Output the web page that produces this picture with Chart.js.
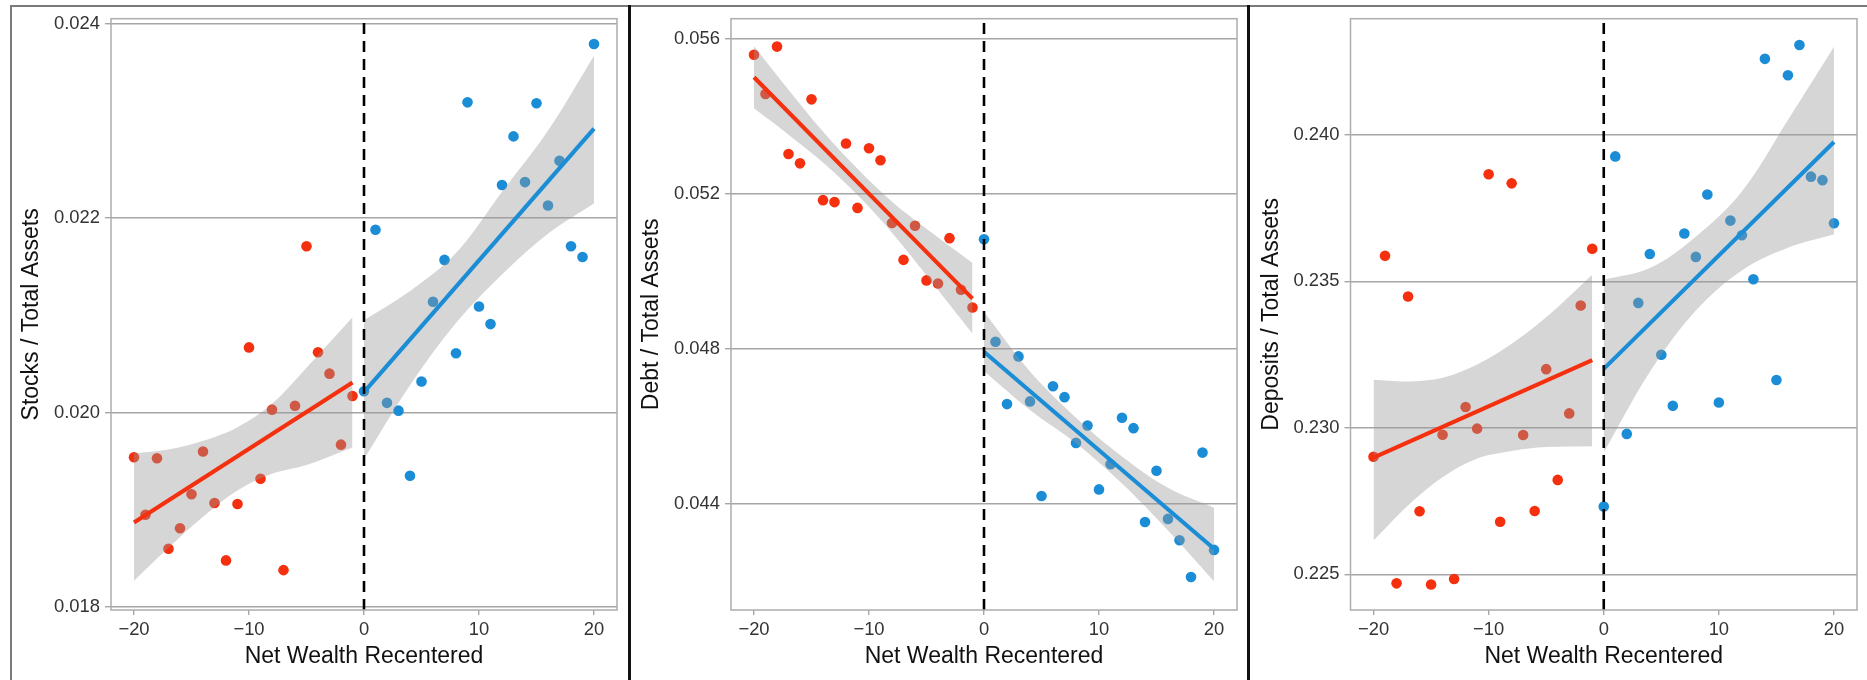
<!DOCTYPE html>
<html lang="en">
<head>
  <meta charset="UTF-8">
  <title>Net Wealth Recentered panels</title>
  <script src="https://cdn.jsdelivr.net/npm/chart.js"></script>
  <style>
    body { margin: 0; background: #fff; width: 1867px; height: 680px; overflow: hidden; position: relative; font-family: "Liberation Sans", Arial, sans-serif; }
    canvas { position: absolute; top: 0; }
    .rule { position: absolute; z-index: 5; }
  </style>
</head>
<body>
  <canvas id="stocksChart" width="630" height="680" style="left:0px"></canvas>
  <canvas id="debtChart" width="617" height="680" style="left:632px"></canvas>
  <canvas id="depositsChart" width="616" height="680" style="left:1251px"></canvas>

  <div class="rule" style="left:10px;top:5px;width:1857px;height:2px;background:#7a7a7a"></div>
  <div class="rule" style="left:10px;top:5px;width:2px;height:675px;background:#7a7a7a"></div>
  <div class="rule" style="left:628px;top:5px;width:3px;height:675px;background:#111"></div>
  <div class="rule" style="left:1247px;top:5px;width:3px;height:675px;background:#111"></div>

  <script>
    // shared x values
    const redX = [-20, -19, -18, -17, -16, -15, -14, -13, -12, -11, -10, -9, -8, -7, -6, -5, -4, -3, -2, -1];
    const blueX = [0, 1, 2, 3, 4, 5, 6, 7, 8, 9, 10, 11, 12, 13, 14, 15, 16, 17, 18, 19, 20];
    const redFitX = [-20, -1];
    const blueFitX = [0, 20];
    const redBandX = [-20, -17, -14, -11, -8, -5, -1];
    const blueBandX = [0, 4, 8, 12, 16, 20];
    const xTicks = [-20, -10, 0, 10, 20];
    const xRange = [-22, 22];
    const xTitle = 'Net Wealth Recentered';

    // Stocks / Total Assets
    const stocksRed = [0.01954, 0.01895, 0.01953, 0.01860, 0.01881, 0.01916, 0.01960, 0.01907, 0.01848, 0.01906,
                       0.02067, 0.01932, 0.02003, 0.01838, 0.02007, 0.02171, 0.02062, 0.02040, 0.01967, 0.02017];
    const stocksBlue = [0.02022, 0.02188, 0.02010, 0.02002, 0.01935, 0.02032, 0.02114, 0.02157, 0.02061, 0.02319, 0.02109,
                        0.02091, 0.02234, 0.02284, 0.02237, 0.02318, 0.02213, 0.02259, 0.02171, 0.02160, 0.02379];
    const stocksRedFit = [0.01887, 0.02031];
    const stocksBlueFit = [0.02021, 0.02292];
    const stocksRedUpper = [0.01958, 0.01962, 0.01971, 0.01985, 0.02009, 0.02046, 0.02098];
    const stocksRedLower = [0.01827, 0.01861, 0.01893, 0.01920, 0.01937, 0.01946, 0.01964];
    const stocksBlueUpper = [0.02095, 0.02125, 0.02164, 0.02227, 0.02290, 0.02367];
    const stocksBlueLower = [0.01952, 0.02028, 0.02092, 0.02142, 0.02184, 0.02215];
    const stocksTicks = [0.018, 0.020, 0.022, 0.024];
    const stocksRange = [0.01797, 0.02405];

    // Debt / Total Assets
    const debtRed = [0.05559, 0.05458, 0.05580, 0.05303, 0.05279, 0.05444, 0.05184, 0.05179, 0.05330, 0.05164,
                     0.05318, 0.05287, 0.05125, 0.05030, 0.05118, 0.04977, 0.04969, 0.05086, 0.04953, 0.04907];
    const debtBlue = [0.05083, 0.04819, 0.04658, 0.04781, 0.04665, 0.04421, 0.04704, 0.04676, 0.04558, 0.04603, 0.04438,
                      0.04503, 0.04623, 0.04596, 0.04354, 0.04486, 0.04362, 0.04307, 0.04212, 0.04533, 0.04282];
    const debtRedFit = [0.05501, 0.04930];
    const debtBlueFit = [0.04793, 0.04285];
    const debtRedUpper = [0.05581, 0.05469, 0.05361, 0.05265, 0.05180, 0.05110, 0.05022];
    const debtRedLower = [0.05421, 0.05353, 0.05281, 0.05197, 0.05100, 0.04990, 0.04840];
    const debtBlueUpper = [0.04896, 0.04742, 0.04623, 0.04523, 0.04442, 0.04391];
    const debtBlueLower = [0.04743, 0.04643, 0.04557, 0.04453, 0.04332, 0.04201];
    const debtTicks = [0.044, 0.048, 0.052, 0.056];
    const debtRange = [0.04127, 0.05652];

    // Deposits / Total Assets
    const depositsRed = [0.22901, 0.23587, 0.22469, 0.23448, 0.22715, 0.22465, 0.22976, 0.22484, 0.23071, 0.22997,
                         0.23865, 0.22679, 0.23834, 0.22975, 0.22716, 0.23200, 0.22822, 0.23049, 0.23417, 0.23611];
    const depositsBlue = [0.22731, 0.23926, 0.22979, 0.23426, 0.23593, 0.23249, 0.23075, 0.23663, 0.23583, 0.23796, 0.23086,
                          0.23707, 0.23657, 0.23507, 0.24259, 0.23163, 0.24203, 0.24306, 0.23857, 0.23845, 0.23698];
    const depositsRedFit = [0.22898, 0.23231];
    const depositsBlueFit = [0.23201, 0.23975];
    const depositsRedUpper = [0.23164, 0.23158, 0.23171, 0.23216, 0.23287, 0.23377, 0.23522];
    const depositsRedLower = [0.22615, 0.22735, 0.22831, 0.22895, 0.22921, 0.22934, 0.22937];
    const depositsBlueUpper = [0.23505, 0.23545, 0.23652, 0.23806, 0.24050, 0.24300];
    const depositsBlueLower = [0.22916, 0.23190, 0.23400, 0.23537, 0.23614, 0.23660];
    const depositsTicks = [0.225, 0.230, 0.235, 0.240];
    const depositsRange = [0.22378, 0.24396];

    const RED = '#f5300f';
    const BLUE = '#1a8dd6';
    const BAND = 'rgba(153,153,153,0.4)';
    const FONT = '"Liberation Sans", Arial, sans-serif';

    const pts = (xs, ys) => xs.map((x, i) => ({ x: x, y: ys[i] }));

    // frame around the plotting area
    const panelBorder = {
      id: 'panelBorder',
      afterDatasetsDraw(chart) {
        const a = chart.chartArea;
        const ctx = chart.ctx;
        ctx.save();
        ctx.strokeStyle = '#adadad';
        ctx.lineWidth = 1.5;
        ctx.strokeRect(a.left, a.top, a.right - a.left, a.bottom - a.top);
        ctx.restore();
      }
    };

    function bandLine(xs, ys, fill) {
      return {
        type: 'line', data: pts(xs, ys), order: 2,
        borderWidth: 0, borderColor: 'rgba(0,0,0,0)', pointRadius: 0,
        tension: 0.35, fill: fill ? '-1' : false, backgroundColor: BAND
      };
    }

    function fitLine(xs, ys, color) {
      return {
        type: 'line', data: pts(xs, ys), order: 1,
        borderColor: color, borderWidth: 4.1, pointRadius: 0, fill: false
      };
    }

    function makePanel(id, p) {
      const ctx = document.getElementById(id).getContext('2d');
      return new Chart(ctx, {
        type: 'scatter',
        data: {
          datasets: [
            {
              type: 'line', data: [{ x: 0, y: p.range[0] }, { x: 0, y: p.range[1] }], order: 0,
              borderColor: '#000', borderWidth: 2.6, borderDash: [11, 7], pointRadius: 0, fill: false
            },
            fitLine(redFitX, p.redFit, RED),
            fitLine(blueFitX, p.blueFit, BLUE),
            bandLine(redBandX, p.redLower, false),
            bandLine(redBandX, p.redUpper, true),
            bandLine(blueBandX, p.blueLower, false),
            bandLine(blueBandX, p.blueUpper, true),
            { data: pts(redX, p.red), order: 3, backgroundColor: RED, pointRadius: 5.3, pointBorderWidth: 0 },
            { data: pts(blueX, p.blue), order: 3, backgroundColor: BLUE, pointRadius: 5.3, pointBorderWidth: 0 }
          ]
        },
        options: {
          responsive: false,
          animation: false,
          devicePixelRatio: 1,
          layout: { padding: { top: 18.7, right: p.padRight, left: 0, bottom: 0 } },
          plugins: { legend: { display: false }, tooltip: { enabled: false } },
          scales: {
            x: {
              type: 'linear', min: xRange[0], max: xRange[1],
              afterBuildTicks: s => { s.ticks = xTicks.map(v => ({ value: v })); },
              afterFit: s => { s.height = 70; },
              border: { display: false },
              grid: { drawOnChartArea: false, drawTicks: true, tickLength: 5, color: '#a6a6a6', lineWidth: 1.4 },
              ticks: {
                autoSkip: false, maxRotation: 0, padding: 4, color: '#333',
                font: { family: FONT, size: 18.4 },
                callback: v => v < 0 ? '\u2212' + Math.abs(v) : String(v)
              },
              title: {
                display: true, text: xTitle, color: '#111',
                font: { family: FONT, size: 23 }, padding: { top: 0, bottom: 9.2 }
              }
            },
            y: {
              type: 'linear', min: p.range[0], max: p.range[1],
              afterBuildTicks: s => { s.ticks = p.ticks.map(v => ({ value: v })); },
              afterFit: s => { s.width = p.axisWidth; },
              border: { display: false },
              grid: { drawOnChartArea: true, drawTicks: true, tickLength: 6, color: '#a6a6a6', lineWidth: 1.4 },
              ticks: {
                padding: 5, color: '#333',
                font: { family: FONT, size: 18.4 },
                callback: v => v.toFixed(3)
              },
              title: {
                display: true, text: p.title, color: '#111',
                font: { family: FONT, size: 23 }, padding: { top: p.titlePad, bottom: 0 }
              }
            }
          }
        },
        plugins: [panelBorder]
      });
    }

    makePanel('stocksChart', {
      title: 'Stocks / Total Assets', red: stocksRed, blue: stocksBlue,
      redFit: stocksRedFit, blueFit: stocksBlueFit,
      redUpper: stocksRedUpper, redLower: stocksRedLower, blueUpper: stocksBlueUpper, blueLower: stocksBlueLower,
      ticks: stocksTicks, range: stocksRange, axisWidth: 111, padRight: 13, titlePad: 18.2
    });
    makePanel('debtChart', {
      title: 'Debt / Total Assets', red: debtRed, blue: debtBlue,
      redFit: debtRedFit, blueFit: debtBlueFit,
      redUpper: debtRedUpper, redLower: debtRedLower, blueUpper: debtBlueUpper, blueLower: debtBlueLower,
      ticks: debtTicks, range: debtRange, axisWidth: 99, padRight: 12, titlePad: 6.2
    });
    makePanel('depositsChart', {
      title: 'Deposits / Total Assets', red: depositsRed, blue: depositsBlue,
      redFit: depositsRedFit, blueFit: depositsBlueFit,
      redUpper: depositsRedUpper, redLower: depositsRedLower, blueUpper: depositsBlueUpper, blueLower: depositsBlueLower,
      ticks: depositsTicks, range: depositsRange, axisWidth: 99.5, padRight: 10, titlePad: 6.8
    });
  </script>
</body>
</html>
